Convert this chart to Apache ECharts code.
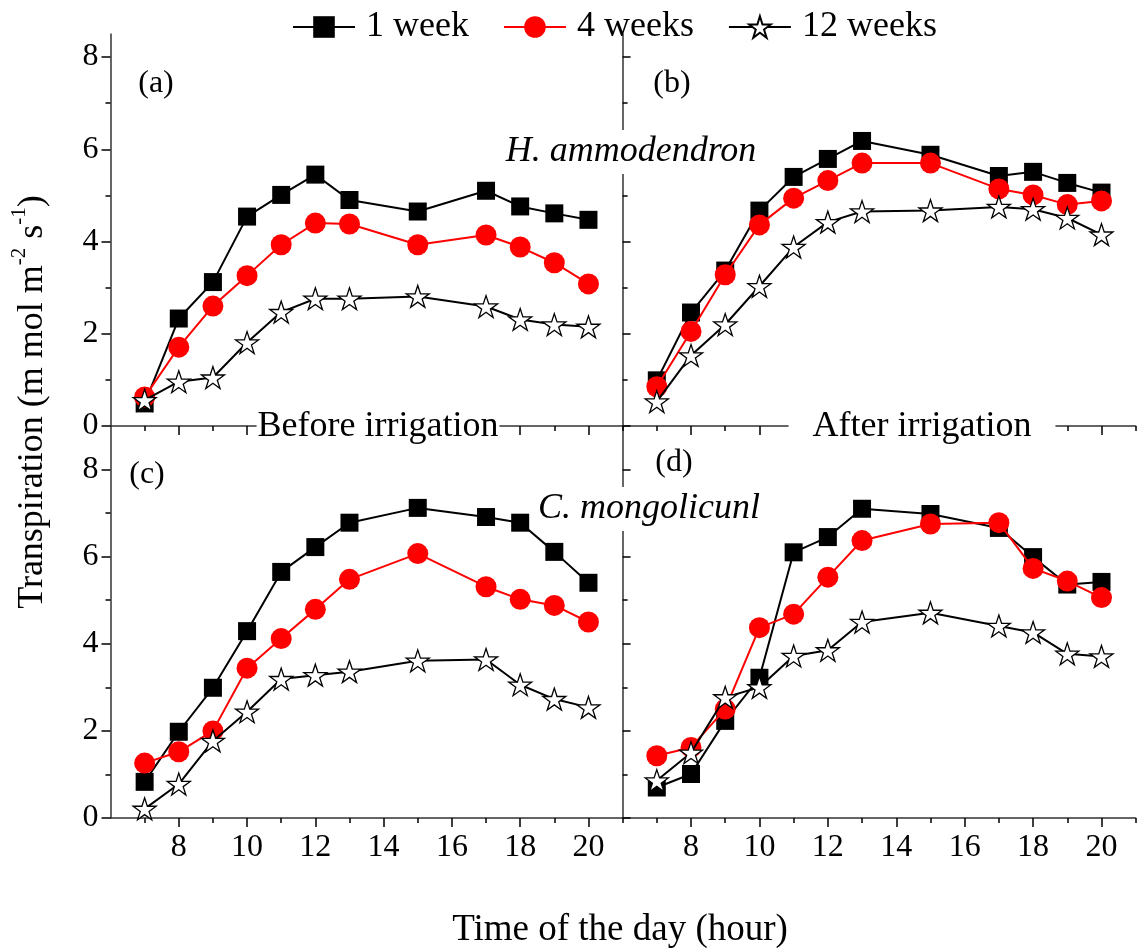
<!DOCTYPE html>
<html><head><meta charset="utf-8">
<script src="https://cdn.jsdelivr.net/npm/echarts@6/dist/echarts.min.js"></script>
<style>html,body{margin:0;padding:0;background:#fff}#c{width:1145px;height:951px}</style>
</head><body><div id="c"></div>
<script>
// ---- data ----
const hours = [7, 8, 9, 10, 11, 12, 13, 15, 17, 18, 19, 20];
const seriesNames = ['1 week', '4 weeks', '12 weeks'];
const a_1week   = [0.49, 2.33, 3.12, 4.54, 5.01, 5.45, 4.90, 4.65, 5.10, 4.76, 4.61, 4.47];
const a_4weeks  = [0.63, 1.71, 2.60, 3.26, 3.93, 4.40, 4.38, 3.93, 4.14, 3.88, 3.54, 3.08];
const a_12weeks = [0.56, 0.96, 1.05, 1.81, 2.47, 2.76, 2.76, 2.81, 2.59, 2.31, 2.20, 2.15];
const b_1week   = [0.99, 2.46, 3.37, 4.67, 5.40, 5.79, 6.18, 5.88, 5.42, 5.51, 5.27, 5.06];
const b_4weeks  = [0.85, 2.05, 3.28, 4.36, 4.94, 5.32, 5.70, 5.70, 5.14, 5.01, 4.80, 4.88];
const b_12weeks = [0.53, 1.53, 2.20, 3.03, 3.88, 4.42, 4.65, 4.67, 4.75, 4.70, 4.51, 4.15];
const c_1week   = [0.83, 1.98, 2.99, 4.29, 5.65, 6.22, 6.78, 7.12, 6.91, 6.78, 6.11, 5.40];
const c_4weeks  = [1.26, 1.52, 2.00, 3.44, 4.12, 4.79, 5.48, 6.07, 5.31, 5.02, 4.88, 4.50];
const c_12weeks = [0.21, 0.78, 1.77, 2.44, 3.19, 3.28, 3.36, 3.61, 3.64, 3.06, 2.73, 2.54];
const d_1week   = [0.70, 1.01, 2.23, 3.22, 6.10, 6.45, 7.10, 6.98, 6.66, 5.99, 5.36, 5.42];
const d_4weeks  = [1.43, 1.62, 2.50, 4.37, 4.68, 5.53, 6.37, 6.75, 6.78, 5.73, 5.44, 5.06];
const d_12weeks = [0.86, 1.50, 2.77, 3.00, 3.72, 3.85, 4.50, 4.71, 4.41, 4.26, 3.77, 3.71];
const xTickLabels = [8, 10, 12, 14, 16, 18, 20];
const xMinorTicks = [7, 9, 11, 13, 15, 17, 19, 21];
const yTickLabels = [0, 2, 4, 6, 8];
const yMinorTicks = [1, 3, 5, 7];
const panelLabels = ['(a)', '(b)', '(c)', '(d)'];

// ---- layout ----
const FONT = 'Liberation Serif';
const L = 110.5, D = 622.6, R = 1135.7, T = 34, M = 426, B = 818;
const panels = [
  {left: L, top: T, width: D - L, height: M - T, ymax: 8 * (M - T) / 369, leftSide: true, bottom: false, data: [a_1week, a_4weeks, a_12weeks]},
  {left: D, top: T, width: R - D, height: M - T, ymax: 8 * (M - T) / 369, leftSide: false, bottom: false, data: [b_1week, b_4weeks, b_12weeks]},
  {left: L, top: M, width: D - L, height: B - M, ymax: 9, leftSide: true, bottom: true, data: [c_1week, c_4weeks, c_12weeks]},
  {left: D, top: M, width: R - D, height: B - M, ymax: 9, leftSide: false, bottom: true, data: [d_1week, d_4weeks, d_12weeks]}
];
const AX = '#333';
const starPath = 'path://M50 0 L61.23 34.55 L97.55 34.55 L68.17 55.9 L79.39 90.45 L50 69.1 L20.61 90.45 L31.83 55.9 L2.45 34.55 L38.77 34.55 Z';

const grid = [], xAxis = [], yAxis = [], series = [];
panels.forEach(p => grid.push({left: p.left, top: p.top, width: p.width, height: p.height}));
panels.forEach(p => grid.push({left: p.left, top: p.top, width: p.width, height: p.height}));

const lbl = {fontFamily: FONT, fontSize: 32, color: '#000'};
// x axes: major (0..3) and minor (4..7)
panels.forEach((p, g) => {
  xAxis.push({gridIndex: g, type: 'value', min: 6, max: 21, position: 'bottom',
    axisLine: {show: true, onZero: false, lineStyle: {color: AX, width: 1.5}},
    axisTick: {show: true, customValues: xTickLabels, length: 9, lineStyle: {color: '#000', width: 1.5}},
    axisLabel: Object.assign({show: p.bottom, customValues: xTickLabels, margin: 14}, lbl),
    splitLine: {show: false}});
});
panels.forEach((p, g) => {
  xAxis.push({gridIndex: g + 4, type: 'value', min: 6, max: 21, position: 'bottom',
    axisLine: {show: false},
    axisTick: {show: true, customValues: xMinorTicks, length: 5, lineStyle: {color: '#000', width: 1.5}},
    axisLabel: {show: false}, splitLine: {show: false}});
});
// y axes: main left (0..3), minor left (4..7), right major for left panels (8,9), right minor (10,11)
panels.forEach((p, g) => {
  yAxis.push({gridIndex: g, type: 'value', min: 0, max: p.ymax, position: 'left',
    show: p.leftSide,
    axisLine: {show: true, onZero: false, lineStyle: {color: AX, width: 1.5}},
    axisTick: {show: true, customValues: yTickLabels, length: 9, lineStyle: {color: '#000', width: 1.5}},
    axisLabel: Object.assign({show: true, customValues: yTickLabels, margin: 12}, lbl),
    splitLine: {show: false}});
});
panels.forEach((p, g) => {
  yAxis.push({gridIndex: g + 4, type: 'value', min: 0, max: p.ymax, position: 'left',
    show: p.leftSide,
    axisLine: {show: false},
    axisTick: {show: true, customValues: yMinorTicks, length: 5, lineStyle: {color: '#000', width: 1.5}},
    axisLabel: {show: false}, splitLine: {show: false}});
});
[0, 2].forEach(g => {
  yAxis.push({gridIndex: g, type: 'value', min: 0, max: panels[g].ymax, position: 'right',
    axisLine: {show: true, onZero: false, lineStyle: {color: AX, width: 1.5}},
    axisTick: {show: true, customValues: yTickLabels, length: 8, lineStyle: {color: '#000', width: 1.5}},
    axisLabel: {show: false}, splitLine: {show: false}});
});
[0, 2].forEach(g => {
  yAxis.push({gridIndex: g + 4, type: 'value', min: 0, max: panels[g].ymax, position: 'right',
    axisLine: {show: false},
    axisTick: {show: true, customValues: yMinorTicks, length: 5, lineStyle: {color: '#000', width: 1.5}},
    axisLabel: {show: false}, splitLine: {show: false}});
});

const styles = [
  {symbol: 'rect', symbolSize: 18, color: '#000', line: '#000', border: '#000', bw: 0},
  {symbol: 'circle', symbolSize: 21, color: '#ff0000', line: '#ff0000', border: '#ff0000', bw: 0},
  {symbol: starPath, symbolSize: 23, color: '#fff', line: '#000', border: '#000', bw: 1.3}
];
panels.forEach((p, g) => {
  p.data.forEach((vals, s) => {
    const st = styles[s];
    series.push({
      name: seriesNames[s], type: 'line', xAxisIndex: g, yAxisIndex: g,
      data: hours.map((h, i) => [h, vals[i]]),
      symbol: st.symbol, symbolSize: st.symbolSize, symbolKeepAspect: true, showAllSymbol: true,
      lineStyle: {color: st.line, width: 2},
      itemStyle: {color: st.color, borderColor: st.border, borderWidth: st.bw},
      emphasis: {disabled: true}, animation: false, z: 3 + s
    });
  });
});

const textEl = (x, y, text, size, extra) => Object.assign({
  type: 'text', x: x, y: y, z: 100,
  style: Object.assign({text: text, fontFamily: FONT, fontSize: size, fill: '#000', align: 'center', verticalAlign: 'middle'}, extra || {})
});

const graphic = [
  textEl(156, 84, panelLabels[0], 32),
  textEl(672, 84, panelLabels[1], 32),
  textEl(147, 475, panelLabels[2], 32),
  textEl(674, 463, panelLabels[3], 32),
  textEl(631, 152, 'H. ammodendron', 36, {fontStyle: 'italic', backgroundColor: '#fff', padding: [4, 2]}),
  textEl(649, 509, 'C. mongolicunl', 36, {fontStyle: 'italic', backgroundColor: '#fff', padding: [4, 2]}),
  textEl(378, 427, 'Before irrigation', 36, {backgroundColor: '#fff', padding: [2, 1]}),
  textEl(922, 427, 'After irrigation', 36, {backgroundColor: '#fff', padding: [2, 24]}),
  textEl(620, 930, 'Time of the day (hour)', 37),
  {type: 'text', x: 30, y: 402, rotation: Math.PI / 2, z: 100,
   style: {text: '{n|Transpiration (m mol m}{s|-2}{n| s}{s|-1}{n|)}', align: 'center', verticalAlign: 'middle',
     fontFamily: FONT, fontSize: 36, fill: '#000',
     rich: {n: {fontFamily: FONT, fontSize: 36, lineHeight: 42, verticalAlign: 'bottom', fill: '#000', color: '#000'},
            s: {fontFamily: FONT, fontSize: 21, lineHeight: 42, verticalAlign: 'top', fill: '#000', color: '#000'}}}}
];

const chart = echarts.init(document.getElementById('c'), null, {renderer: 'canvas'});
chart.setOption({
  animation: false,
  backgroundColor: '#fff',
  legend: {
    data: seriesNames, top: 4, left: 287, itemWidth: 62, itemHeight: 27, itemGap: 34,
    textStyle: {fontFamily: FONT, fontSize: 36, color: '#000', padding: [0, 0, 0, 6]}
  },
  grid: grid, xAxis: xAxis, yAxis: yAxis, series: series, graphic: graphic
});
</script></body></html>
